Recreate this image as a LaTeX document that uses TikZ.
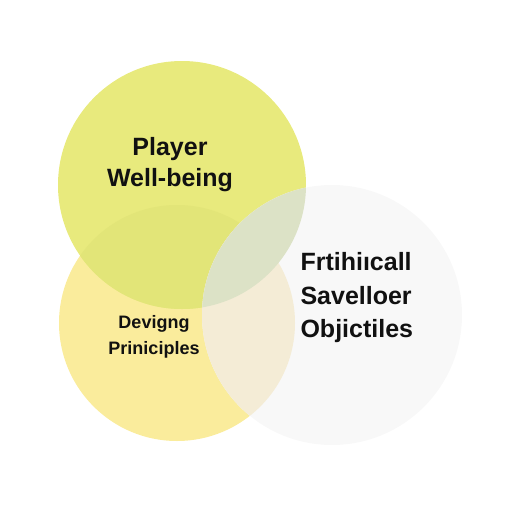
\documentclass[tikz,border=0pt]{standalone}
\usepackage{fontspec}
\setmainfont{Liberation Sans}
\usetikzlibrary{positioning}

\definecolor{wbfill}{HTML}{E8EA7D}
\definecolor{dpfill}{HTML}{FAEC9C}
\definecolor{wbdpfill}{HTML}{E2E578}
\definecolor{eofill}{HTML}{F8F8F8}
\definecolor{eowbfill}{HTML}{DCE2C6}
\definecolor{eodpfill}{HTML}{F4ECD6}
\definecolor{labeltext}{HTML}{111111}

\begin{document}
\begin{tikzpicture}[
    x=1pt, y=-1pt,
    label/.style={text=labeltext, font=\bfseries},
    big/.style={label, font={\fontsize{25}{31}\selectfont\bfseries}},
    bigspread/.style={label, font={\fontsize{25}{33.5}\selectfont\bfseries}},
    small/.style={label, font={\fontsize{18}{26}\selectfont\bfseries}},
]
\useasboundingbox (0,0) rectangle (512,512);

% Circles
\coordinate (wellbeing) at (182,185);
\coordinate (principles) at (177,323);
\coordinate (objectives) at (332,315);

\fill[dpfill] (principles) circle[radius=118];
\fill[wbfill] (wellbeing) circle[radius=124];
\begin{scope}
    \clip (principles) circle[radius=118];
    \fill[wbdpfill] (wellbeing) circle[radius=124];
\end{scope}
\fill[eofill] (objectives) circle[radius=130];
\begin{scope}
    \clip (objectives) circle[radius=130];
    \fill[eodpfill] (principles) circle[radius=118];
    \fill[eowbfill] (wellbeing) circle[radius=124];
\end{scope}

% Labels
\node[big, align=center] (wbtext) at (170,165) {Player\\Well-being};
\node[small, align=center] (dptext) at (154,337) {Devigng\\Priniciples};
\node[bigspread, align=left, anchor=west] (eotext) at (297,298) {Frtihiıcall\\Savelloer\\Objictiles};

\end{tikzpicture}
\end{document}
